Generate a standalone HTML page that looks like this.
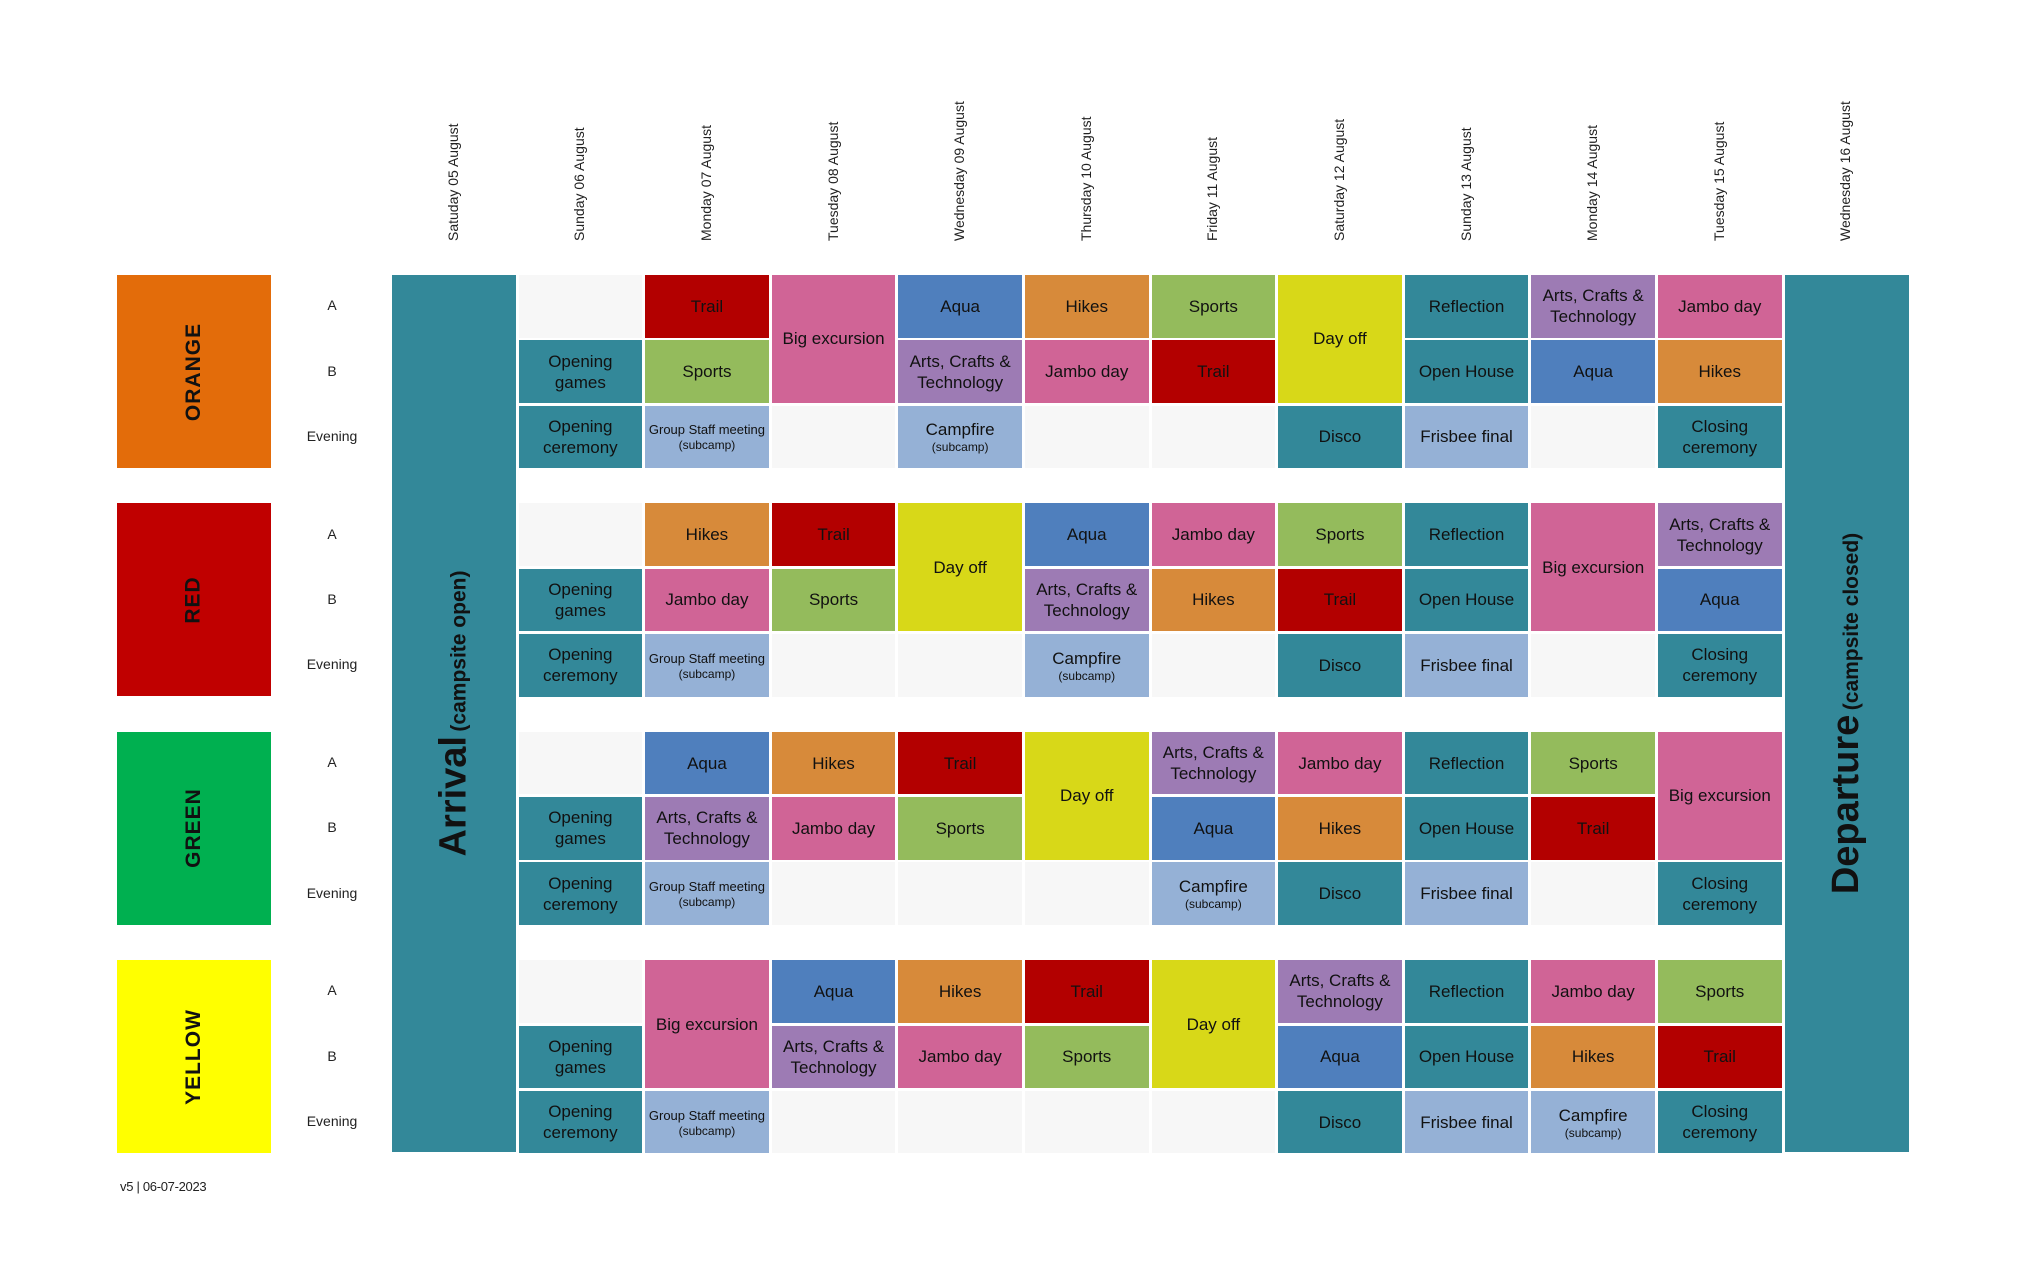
<!DOCTYPE html>
<html><head><meta charset="utf-8">
<style>
body{margin:0;width:2025px;height:1274px;background:#fff;position:relative;overflow:hidden;font-family:"Liberation Sans Narrow","Liberation Sans",sans-serif;}
.abs{position:absolute;}
.cell{position:absolute;display:flex;align-items:center;justify-content:center;text-align:center;color:#111;font-size:17px;line-height:21px;box-sizing:border-box;padding:0 2px;}
.small{font-size:13px;line-height:17px;}
.sub{font-size:12px;display:block;line-height:14px;}
.hdr{position:absolute;white-space:nowrap;font-family:"Liberation Sans",sans-serif;font-size:14px;color:#222;transform-origin:0 0;transform:rotate(-90deg);}
.grp{position:absolute;display:flex;align-items:center;justify-content:center;}
.grp span{transform:rotate(-90deg);font-family:"Liberation Sans",sans-serif;font-weight:bold;font-size:21px;color:#111;white-space:nowrap;letter-spacing:1px;}
.rl{position:absolute;width:80px;text-align:center;font-size:14px;color:#222;}
.bar{position:absolute;background:#338899;display:flex;align-items:center;justify-content:center;}
.bar span{transform:rotate(-90deg);white-space:nowrap;font-family:"Liberation Sans",sans-serif;font-weight:bold;color:#111;}
</style></head><body>
<div id="root"></div>
<div class="bar" style="left:392px;top:275px;width:124px;height:877px;"><span><span style="font-size:38px">Arrival</span> <span style="font-size:21px">(campsite open)</span></span></div>
<div class="bar" style="left:1785px;top:275px;width:124px;height:877px;"><span><span style="font-size:38px">Departure</span> <span style="font-size:21px">(campsite closed)</span></span></div>
<div class="abs" style="left:120px;top:1179px;font-family:'Liberation Sans',sans-serif;font-size:13px;color:#222;letter-spacing:-0.3px;">v5 | 06-07-2023</div>
<script>
const dates=["Satuday 05 August","Sunday 06 August","Monday 07 August","Tuesday 08 August","Wednesday 09 August","Thursday 10 August","Friday 11 August","Saturday 12 August","Sunday 13 August","Monday 14 August","Tuesday 15 August","Wednesday 16 August"];
const groups=["ORANGE","RED","GREEN","YELLOW"];
const groupColors=["#e36c0a","#c00000","#00b050","#ffff00"];
const rowLabels=["A","B","Evening"];
const colors={"Trail":"#b30000","Big excursion":"#d06496","Aqua":"#4f7fbd","Hikes":"#d78a3a","Sports":"#94bb5c","Arts, Crafts & Technology":"#9d7bb4","Campfire":"#95b1d6","Group Staff meeting":"#95b1d6","Day off":"#d8d818","Reflection":"#338899","Open House":"#338899","Frisbee final":"#95b1d6","Disco":"#338899","Opening games":"#338899","Opening ceremony":"#338899","Closing ceremony":"#338899","Jambo day":"#d06496"};
// each group: per column [A,B,Evening]; "^" means spans from above, "" empty
const orangeSched=[["","Opening games","Opening ceremony"],["Trail","Sports","Group Staff meeting"],["Big excursion","^",""],["Aqua","Arts, Crafts & Technology","Campfire"],["Hikes","Jambo day",""],["Sports","Trail",""],["Day off","^","Disco"],["Reflection","Open House","Frisbee final"],["Arts, Crafts & Technology","Aqua",""],["Jambo day","Hikes","Closing ceremony"]];
const redSched=[["","Opening games","Opening ceremony"],["Hikes","Jambo day","Group Staff meeting"],["Trail","Sports",""],["Day off","^",""],["Aqua","Arts, Crafts & Technology","Campfire"],["Jambo day","Hikes",""],["Sports","Trail","Disco"],["Reflection","Open House","Frisbee final"],["Big excursion","^",""],["Arts, Crafts & Technology","Aqua","Closing ceremony"]];
const greenSched=[["","Opening games","Opening ceremony"],["Aqua","Arts, Crafts & Technology","Group Staff meeting"],["Hikes","Jambo day",""],["Trail","Sports",""],["Day off","^",""],["Arts, Crafts & Technology","Aqua","Campfire"],["Jambo day","Hikes","Disco"],["Reflection","Open House","Frisbee final"],["Sports","Trail",""],["Big excursion","^","Closing ceremony"]];
const yellowSched=[["","Opening games","Opening ceremony"],["Big excursion","^","Group Staff meeting"],["Aqua","Arts, Crafts & Technology",""],["Hikes","Jambo day",""],["Trail","Sports",""],["Day off","^",""],["Arts, Crafts & Technology","Aqua","Disco"],["Reflection","Open House","Frisbee final"],["Jambo day","Hikes","Campfire"],["Sports","Trail","Closing ceremony"]];
const schedules=[orangeSched,redSched,greenSched,yellowSched];

const X0=392,CP=126.6,CW=123.5,Y0=275,GP=228.4,RP=65.3,RH=62.5;
const colX=c=>X0+CP*(c+1);
const rowY=(g,r)=>Y0+GP*g+RP*r;
const B=document.body;
function mk(cls){const d=document.createElement('div');d.className=cls;B.appendChild(d);return d;}
dates.forEach((t,k)=>{
  const d=mk('hdr');
  
  
  d.textContent=t;
  d.style.left=(X0+CP*k+CW/2-9)+'px';d.style.top='241px';
});
groups.forEach((g,gi)=>{
  const b=mk('grp');
  
  
  b.style.cssText+=`left:117px;top:${rowY(gi,0)}px;width:154px;height:${RP*2+RH}px;background:${groupColors[gi]}`;
  b.innerHTML='<span>'+g+'</span>';
  rowLabels.forEach((r,ri)=>{
    const l=mk('rl');
    
    
    l.textContent=r;
    l.style.left='292px';l.style.top=(rowY(gi,ri)+RH/2-9)+'px';
  });
  schedules[gi].forEach((col,ci)=>{
    col.forEach((act,ri)=>{
      if(act==='^')return;
      let span=1;if(ri<2&&col[ri+1]==='^')span=2;
      const c=mk('cell');
      
      
      c.style.left=colX(ci)+'px';c.style.top=rowY(gi,ri)+'px';
      c.style.width=CW+'px';c.style.height=(RP*(span-1)+RH)+'px';
      if(!act){c.style.background='#f7f7f7';return;}
      c.style.background=colors[act];
      if(act==='Campfire')c.innerHTML='<div>Campfire<span class="sub">(subcamp)</span></div>';
      else if(act==='Group Staff meeting'){c.classList.add('small');c.innerHTML='<div><b style="font-weight:normal">Group Staff meeting</b><span class="sub">(subcamp)</span></div>';}
      else if(act==='Opening games')c.innerHTML='Opening<br>games';
      else if(act==='Opening ceremony')c.innerHTML='Opening<br>ceremony';
      else if(act==='Closing ceremony')c.innerHTML='Closing<br>ceremony';
      else if(act.startsWith('Arts'))c.innerHTML='Arts, Crafts &amp;<br>Technology';
      else c.textContent=act;
    });
  });
});
</script>
</body></html>
